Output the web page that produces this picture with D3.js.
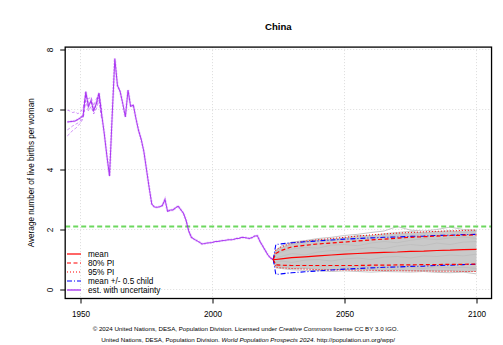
<!DOCTYPE html>
<html>
<head>
<meta charset="utf-8">
<script src="https://cdn.jsdelivr.net/npm/d3@7"></script>
<style>
  html, body { margin: 0; padding: 0; background: #ffffff; }
  svg { display: block; font-family: "Liberation Sans", Arial, Helvetica, sans-serif; }
</style>
</head>
<body>
<svg id="chart" width="503" height="345"></svg>
<script>
// Total fertility rate, China: estimates (1945-2023) and probabilistic projections (2023-2100)

const xTicks = [1950, 2000, 2050, 2100];
const yTicks = [0, 2, 4, 6, 8];
const replacementLevel = 2.1;

// Estimates (central trajectory)
const estYears = [1945, 1948, 1950, 1951, 1952, 1953, 1954, 1955, 1956, 1957, 1958, 1959, 1960, 1961, 1962, 1963,
  1964, 1965, 1966, 1967, 1968, 1969, 1970, 1971, 1972, 1973, 1974, 1975, 1976, 1977, 1978, 1979, 1980,
  1981, 1982, 1983, 1984, 1985, 1986, 1987, 1988, 1989, 1990, 1991, 1992, 1993, 1994, 1995, 1996, 1997,
  1998, 1999, 2000, 2001, 2002, 2003, 2004, 2005, 2006, 2007, 2008, 2009, 2010, 2011, 2012, 2013, 2014,
  2015, 2016, 2017, 2018, 2019, 2020, 2021, 2022, 2023];
const estTFR = [5.58, 5.62, 5.72, 5.8, 6.6, 6.1, 6.3, 5.95, 6.2, 6.55, 5.85, 5.2, 4.45, 3.78, 5.8, 7.7,
  6.8, 6.6, 6.2, 5.75, 6.65, 6.1, 6.15, 5.7, 5.3, 5.0, 4.6, 4.0, 3.4, 2.85, 2.75, 2.74, 2.76,
  2.8, 3.0, 2.6, 2.65, 2.65, 2.72, 2.78, 2.66, 2.54, 2.3, 1.95, 1.74, 1.68, 1.63, 1.58, 1.52, 1.53,
  1.55, 1.56, 1.57, 1.6, 1.6, 1.62, 1.63, 1.64, 1.66, 1.66, 1.67, 1.7, 1.7, 1.74, 1.73, 1.72, 1.7,
  1.73, 1.78, 1.79, 1.6, 1.45, 1.3, 1.15, 1.05, 1.0];

// Estimate uncertainty in the early years
const earlyYears = [1945, 1946, 1947, 1948, 1949, 1950, 1951, 1952, 1953, 1954, 1955, 1956, 1957, 1958];
const earlyHigh = [5.98, 5.95, 5.9, 5.92, 5.86, 5.92, 6.05, 6.45, 6.35, 6.42, 6.12, 6.35, 6.5, 6.0];
const earlyLow = [5.12, 5.2, 5.3, 5.36, 5.45, 5.55, 5.7, 6.3, 5.95, 6.1, 5.85, 6.02, 6.3, 5.7];
const earlyMid = [5.32, 5.38, 5.45, 5.5, 5.55, 5.62, 5.75, 6.5, 6.2, 6.25, 6.0, 6.15, 6.4, 5.8];

// Projections
const projYears = [2023, 2024, 2026, 2030, 2035, 2040, 2045, 2050, 2055, 2060, 2065, 2070, 2075, 2080, 2085, 2090, 2095, 2100];
const meanTFR    = [1.0, 1.0, 1.02, 1.06, 1.09, 1.12, 1.15, 1.18, 1.2, 1.22, 1.24, 1.25, 1.27, 1.28, 1.3, 1.31, 1.33, 1.34];
const pi80Upper  = [1.0, 1.2, 1.3, 1.42, 1.47, 1.52, 1.55, 1.58, 1.62, 1.65, 1.68, 1.71, 1.74, 1.76, 1.78, 1.8, 1.81, 1.82];
const pi80Lower  = [1.0, 0.82, 0.81, 0.8, 0.8, 0.8, 0.8, 0.8, 0.8, 0.81, 0.81, 0.82, 0.82, 0.83, 0.83, 0.84, 0.84, 0.85];
const pi95Upper  = [1.0, 1.32, 1.42, 1.55, 1.61, 1.66, 1.7, 1.74, 1.78, 1.82, 1.85, 1.88, 1.9, 1.92, 1.94, 1.95, 1.97, 1.98];
const pi95Lower  = [1.0, 0.74, 0.72, 0.7, 0.68, 0.66, 0.65, 0.65, 0.64, 0.64, 0.63, 0.63, 0.62, 0.62, 0.61, 0.61, 0.6, 0.6];
const halfChildUpper = [1.0, 1.5, 1.52, 1.56, 1.59, 1.62, 1.65, 1.68, 1.7, 1.72, 1.74, 1.75, 1.77, 1.78, 1.8, 1.81, 1.83, 1.84];
const halfChildLower = [1.0, 0.5, 0.52, 0.56, 0.59, 0.62, 0.65, 0.68, 0.7, 0.72, 0.74, 0.75, 0.77, 0.78, 0.8, 0.81, 0.83, 0.84];

// A few individual simulated trajectories
const trajectories = [
  [1.0, 1.3, 1.45, 1.58, 1.63, 1.7, 1.74, 1.8, 1.84, 1.9, 1.95, 2.1, 1.98, 1.95, 2.0, 2.08, 2.0, 1.98],
  [1.0, 1.25, 1.38, 1.5, 1.6, 1.66, 1.62, 1.72, 1.8, 1.78, 1.86, 1.9, 1.94, 1.88, 1.93, 1.96, 1.9, 1.94],
  [1.0, 0.72, 0.7, 0.66, 0.64, 0.63, 0.6, 0.62, 0.6, 0.58, 0.6, 0.59, 0.58, 0.6, 0.57, 0.56, 0.58, 0.52],
  [1.0, 0.78, 0.74, 0.7, 0.72, 0.68, 0.66, 0.68, 0.66, 0.65, 0.64, 0.66, 0.63, 0.64, 0.62, 0.63, 0.6, 0.62],
  [1.0, 1.05, 1.1, 1.2, 1.15, 1.25, 1.3, 1.28, 1.35, 1.4, 1.36, 1.45, 1.5, 1.46, 1.55, 1.5, 1.58, 1.6],
  [1.0, 0.9, 0.95, 0.9, 0.98, 1.0, 0.95, 1.02, 1.05, 1.0, 1.08, 1.1, 1.05, 1.12, 1.1, 1.15, 1.12, 1.18],
  [1.0, 1.15, 1.25, 1.35, 1.4, 1.38, 1.48, 1.5, 1.46, 1.55, 1.6, 1.56, 1.64, 1.7, 1.66, 1.72, 1.75, 1.7],
  [1.0, 0.85, 0.8, 0.78, 0.82, 0.76, 0.8, 0.74, 0.78, 0.76, 0.72, 0.78, 0.74, 0.7, 0.76, 0.72, 0.74, 0.7]
];

const legendItems = [
  { label: "mean", color: "#ff0000", dash: null },
  { label: "80% PI", color: "#ff0000", dash: "4,2.5" },
  { label: "95% PI", color: "#ff0000", dash: "1,2" },
  { label: "mean +/- 0.5 child", color: "#0000ff", dash: "5,2,1,2" },
  { label: "est. with uncertainty", color: "#a020f0", dash: null }
];

const svg = d3.select("#chart");

const x = d3.scaleLinear().domain([1950, 2100]).range([80.5, 476.5]);
const y = d3.scaleLinear().domain([0, 8]).range([289.5, 49.5]);
const xLo = 1944.2, xHi = 2105.7, yLo = -0.3, yHi = 8.08;
const plotLeft = x(xLo), plotRight = x(xHi), plotTop = y(yHi), plotBottom = y(yLo);

// Grid
const grid = svg.append("g").attr("stroke", "#d3d3d3").attr("stroke-width", 0.8).attr("stroke-dasharray", "1,2");
grid.selectAll(".gx").data(xTicks).join("line")
  .attr("x1", d => x(d)).attr("x2", d => x(d)).attr("y1", plotTop).attr("y2", plotBottom);
grid.selectAll(".gy").data(yTicks).join("line")
  .attr("x1", plotLeft).attr("x2", plotRight).attr("y1", d => y(d)).attr("y2", d => y(d));

svg.append("clipPath").attr("id", "plotclip")
  .append("rect").attr("x", plotLeft).attr("y", plotTop)
  .attr("width", plotRight - plotLeft).attr("height", plotBottom - plotTop);
const plot = svg.append("g").attr("clip-path", "url(#plotclip)");

const projLine = vals => d3.line().x((d, i) => x(projYears[i])).y(d => y(d))(vals);

// Grey trajectory band
const band = d3.area()
  .x((d, i) => x(projYears[i]))
  .y0((d, i) => y(pi95Lower[i]))
  .y1((d, i) => y(pi95Upper[i]));
plot.append("path").attr("d", band(projYears)).attr("fill", "#c9c9c9");

plot.selectAll(".traj").data(trajectories).join("path")
  .attr("d", d => projLine(d))
  .attr("fill", "none").attr("stroke", "#bebebe").attr("stroke-width", 0.9);

// Replacement level
plot.append("line")
  .attr("x1", plotLeft).attr("x2", plotRight)
  .attr("y1", y(replacementLevel)).attr("y2", y(replacementLevel))
  .attr("stroke", "#6cd85e").attr("stroke-width", 2).attr("stroke-dasharray", "5,3");

// Estimates with uncertainty
const estLine = d3.line().x(d => x(d[0])).y(d => y(d[1]));
const estPts = estYears.map((yr, i) => [yr, estTFR[i]]);
plot.append("path").attr("d", estLine(estPts))
  .attr("fill", "none").attr("stroke", "#a020f0").attr("stroke-opacity", 0.25).attr("stroke-width", 2.4)
  .attr("stroke-dasharray", "2,1");
[earlyHigh, earlyLow, earlyMid].forEach(vals => {
  plot.append("path").attr("d", estLine(earlyYears.map((yr, i) => [yr, vals[i]])))
    .attr("fill", "none").attr("stroke", "#a020f0").attr("stroke-opacity", 0.55)
    .attr("stroke-width", 0.9).attr("stroke-dasharray", "3,2");
});
plot.append("path").attr("d", estLine(estPts))
  .attr("fill", "none").attr("stroke", "#a020f0").attr("stroke-opacity", 0.85).attr("stroke-width", 1.05);

// Projection summaries
const series = [
  { vals: pi95Upper, color: "#ff0000", dash: "1,2", w: 1 },
  { vals: pi95Lower, color: "#ff0000", dash: "1,2", w: 1 },
  { vals: halfChildUpper, color: "#0000ff", dash: "5,2,1,2", w: 1.1 },
  { vals: halfChildLower, color: "#0000ff", dash: "5,2,1,2", w: 1.1 },
  { vals: pi80Upper, color: "#ff0000", dash: "4,2.5", w: 1.2 },
  { vals: pi80Lower, color: "#ff0000", dash: "4,2.5", w: 1.2 },
  { vals: meanTFR, color: "#ff0000", dash: null, w: 1.2 }
];
plot.selectAll(".sum").data(series).join("path")
  .attr("d", d => projLine(d.vals))
  .attr("fill", "none").attr("stroke", d => d.color)
  .attr("stroke-width", d => d.w)
  .attr("stroke-dasharray", d => d.dash);

// Axes
const xAxis = svg.append("g").attr("transform", `translate(0,${plotBottom})`)
  .call(d3.axisBottom(x).tickValues(xTicks).tickFormat(d3.format("d")).tickSize(5).tickPadding(7.5));
xAxis.select(".domain").remove();
xAxis.selectAll("text").attr("font-size", 8.2).attr("fill", "#000").attr("font-family", null);
xAxis.selectAll("line").attr("stroke", "#000");

const yAxis = svg.append("g").attr("transform", `translate(${plotLeft},0)`)
  .call(d3.axisLeft(y).tickValues(yTicks).tickSize(5));
yAxis.select(".domain").remove();
yAxis.selectAll("line").attr("stroke", "#000");
yAxis.selectAll("text")
  .attr("x", 0).attr("dy", 0).attr("text-anchor", "middle")
  .attr("transform", "translate(-12.3,0) rotate(-90)")
  .attr("font-size", 8.2).attr("fill", "#000").attr("font-family", null);

// Frame
svg.append("rect")
  .attr("x", plotLeft).attr("y", plotTop)
  .attr("width", plotRight - plotLeft).attr("height", plotBottom - plotTop)
  .attr("fill", "none").attr("stroke", "#000").attr("stroke-width", 1.3);

// Titles
svg.append("text").attr("x", (plotLeft + plotRight) / 2).attr("y", 30.2)
  .attr("text-anchor", "middle").attr("font-size", 9.6).attr("font-weight", "bold").text("China");

svg.append("text")
  .attr("transform", `translate(34,${(plotTop + plotBottom) / 2}) rotate(-90)`)
  .attr("text-anchor", "middle").attr("font-size", 8.2)
  .text("Average number of live births per woman");

// Legend
const legend = svg.append("g");
legendItems.forEach((item, i) => {
  const ly = 254 + i * 9;
  legend.append("line").attr("x1", 67).attr("x2", 81).attr("y1", ly).attr("y2", ly)
    .attr("stroke", item.color).attr("stroke-width", 1.2).attr("stroke-dasharray", item.dash);
  legend.append("text").attr("x", 88).attr("y", ly).attr("dy", "0.35em")
    .attr("font-size", 8.2).text(item.label);
});

// Source note
const note1 = svg.append("text").attr("x", 245.5).attr("y", 330.5).attr("text-anchor", "middle").attr("font-size", 6.2);
note1.append("tspan").text("© 2024 United Nations, DESA, Population Division. Licensed under ");
note1.append("tspan").attr("font-style", "italic").text("Creative Commons");
note1.append("tspan").text(" license CC BY 3.0 IGO.");
const note2 = svg.append("text").attr("x", 248).attr("y", 341.5).attr("text-anchor", "middle").attr("font-size", 6.2);
note2.append("tspan").text("United Nations, DESA, Population Division. ");
note2.append("tspan").attr("font-style", "italic").text("World Population Prospects 2024");
note2.append("tspan").text(". http://population.un.org/wpp/");
</script>
</body>
</html>
